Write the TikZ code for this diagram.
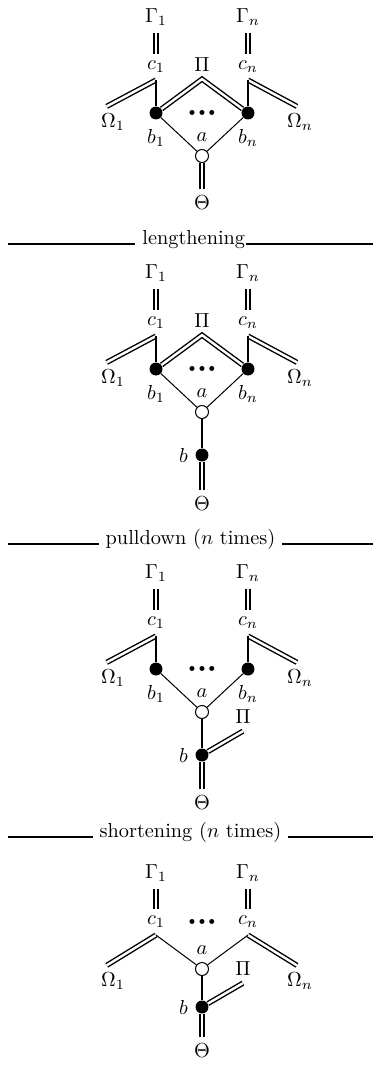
\documentclass[tikz,border=0pt]{standalone}
\usepackage{amsmath}
\usetikzlibrary{positioning,calc}

\newcommand{\midots}{$\scriptscriptstyle\bullet\,\bullet\,\bullet$}

\begin{document}
\begin{tikzpicture}[x=0.4926pt,y=-0.4926pt]
  \tikzstyle{lbl}=[inner sep=3.33pt]
  \tikzstyle{bdot}=[circle,fill=black,inner sep=0pt,minimum size=6.4pt]
  \tikzstyle{wdot}=[circle,draw,fill=white,line width=0.5pt,inner sep=0pt,minimum size=6.4pt]
  \tikzstyle{dbl}=[double,line width=0.7pt,double distance=1.2pt]
  \tikzstyle{thk}=[line width=1.2pt]
  \tikzstyle{thn}=[line width=0.5pt]
  \tikzstyle{rule}=[line width=1.3pt]
  \tikzstyle{sep}=[anchor=base,inner sep=0pt]
  \tikzstyle{blab}=[label distance=1pt]
  \useasboundingbox (0,0) rectangle (373,1067);

  % initial graph
  \node[lbl] (ag1) at (156,17) {$\Gamma_1$};
  \node[lbl] (agn) at (248,17) {$\Gamma_n$};
  \node[lbl] (ac1) at (156,67) {$c_1$};
  \node[lbl] (acn) at (248,67) {$c_n$};
  \node[lbl] (api) at (202,65) {$\Pi$};
  \node[lbl] (adots) at (202,113) {\midots};
  \node[bdot,label={[blab]below:$b_1$}] (ab1) at (156,113) {};
  \node[bdot,label={[blab]below:$b_n$}] (abn) at (248,113) {};
  \node[lbl] (aom1) at (113,122) {$\Omega_1$};
  \node[lbl] (aomn) at (300,122) {$\Omega_n$};
  \node[wdot,label=above:$a$] (aa) at (202,156) {};
  \node[lbl] (ath) at (202,203) {$\Theta$};
  \draw[dbl] (ag1) -- (ac1);
  \draw[dbl] (agn) -- (acn);
  \draw[dbl] (ac1.south) -- (aom1.112);
  \draw[dbl] (acn.south) -- (aomn.101);
  \draw[thk] (ac1.south) -- (ab1);
  \draw[thk] (acn.south) -- (abn);
  \draw[dbl] (ab1) -- (api.south) -- (abn);
  \draw[thn] (ab1) -- (aa);
  \draw[thn] (abn) -- (aa);
  \draw[dbl] (aa) -- (ath);

  % lengthening
  \coordinate (lenl) at (8,244);
  \coordinate (lenr) at (373,244);
  \node[sep] (len) at (193.8,244) {lengthening};
  \draw[rule] (lenl) -- ([xshift=-3.33pt]len.base west);
  \draw[rule] (len.base east) -- (lenr);

  \node[lbl] (bg1) at (156,273) {$\Gamma_1$};
  \node[lbl] (bgn) at (248,273) {$\Gamma_n$};
  \node[lbl] (bc1) at (156,323) {$c_1$};
  \node[lbl] (bcn) at (248,323) {$c_n$};
  \node[lbl] (bpi) at (202,321) {$\Pi$};
  \node[lbl] (bdots) at (202,369) {\midots};
  \node[bdot,label={[blab]below:$b_1$}] (bb1) at (156,369) {};
  \node[bdot,label={[blab]below:$b_n$}] (bbn) at (248,369) {};
  \node[lbl] (bom1) at (113,378) {$\Omega_1$};
  \node[lbl] (bomn) at (300,378) {$\Omega_n$};
  \node[wdot,label=above:$a$] (ba) at (202,412) {};
  \node[bdot,label=left:$b$] (bb) at (202,455) {};
  \node[lbl] (bth) at (202,504) {$\Theta$};
  \draw[dbl] (bg1) -- (bc1);
  \draw[dbl] (bgn) -- (bcn);
  \draw[dbl] (bc1.south) -- (bom1.112);
  \draw[dbl] (bcn.south) -- (bomn.101);
  \draw[thk] (bc1.south) -- (bb1);
  \draw[thk] (bcn.south) -- (bbn);
  \draw[dbl] (bb1) -- (bpi.south) -- (bbn);
  \draw[thn] (bb1) -- (ba);
  \draw[thn] (bbn) -- (ba);
  \draw[thk] (ba) -- (bb);
  \draw[dbl] (bb) -- (bth);

  % pulldown
  \coordinate (pull) at (8,544);
  \coordinate (pulr) at (373,544);
  \node[sep] (pul) at (190.5,544) {pulldown ($n$ times)};
  \draw[rule] (pull) -- ([xshift=-3.33pt]pul.base west);
  \draw[rule] ([xshift=3.33pt]pul.base east) -- (pulr);

  \node[lbl] (cg1) at (156,573) {$\Gamma_1$};
  \node[lbl] (cgn) at (248,573) {$\Gamma_n$};
  \node[lbl] (cc1) at (156,623) {$c_1$};
  \node[lbl] (ccn) at (248,623) {$c_n$};
  \node[lbl] (cdots) at (202,669) {\midots};
  \node[bdot,label={[blab]below:$b_1$}] (cb1) at (156,669) {};
  \node[bdot,label={[blab]below:$b_n$}] (cbn) at (248,669) {};
  \node[lbl] (com1) at (113,678) {$\Omega_1$};
  \node[lbl] (comn) at (300,678) {$\Omega_n$};
  \node[wdot,label=above:$a$] (ca) at (202,712) {};
  \node[lbl] (cpi) at (243,717) {$\Pi$};
  \node[bdot,label=left:$b$] (cb) at (202,755) {};
  \node[lbl] (cth) at (202,803) {$\Theta$};
  \draw[dbl] (cg1) -- (cc1);
  \draw[dbl] (cgn) -- (ccn);
  \draw[dbl] (cc1.south) -- (com1.112);
  \draw[dbl] (ccn.south) -- (comn.101);
  \draw[thk] (cc1.south) -- (cb1);
  \draw[thk] (ccn.south) -- (cbn);
  \draw[thn] (cb1) -- (ca);
  \draw[thn] (cbn) -- (ca);
  \draw[thk] (ca) -- (cb);
  \draw[dbl] (cb) -- (cpi.south);
  \draw[dbl] (cb) -- (cth);

  % shortening
  \coordinate (shol) at (8,837);
  \coordinate (shor) at (373,837);
  \node[sep] (sho) at (190.5,837) {shortening ($n$ times)};
  \draw[rule] (shol) -- ([xshift=-3.33pt]sho.base west);
  \draw[rule] ([xshift=3.33pt]sho.base east) -- (shor);

  \node[lbl] (dg1) at (156,873) {$\Gamma_1$};
  \node[lbl] (dgn) at (248,873) {$\Gamma_n$};
  \node[lbl] (dc1) at (156,922) {$c_1$};
  \node[lbl] (dcn) at (248,922) {$c_n$};
  \node[lbl] (ddots) at (202,922) {\midots};
  \node[lbl] (dom1) at (113,981) {$\Omega_1$};
  \node[lbl] (domn) at (300,981) {$\Omega_n$};
  \node[wdot,label=above:$a$] (da) at (202,969) {};
  \node[lbl] (dpi) at (243,969) {$\Pi$};
  \node[bdot,label=left:$b$] (db) at (202,1007) {};
  \node[lbl] (dth) at (202,1051) {$\Theta$};
  \draw[dbl] (dg1) -- (dc1);
  \draw[dbl] (dgn) -- (dcn);
  \draw[dbl] (dc1.south) -- (dom1.112);
  \draw[dbl] (dcn.south) -- (domn.101);
  \draw[thn] (dc1.south) -- (da);
  \draw[thn] (dcn.south) -- (da);
  \draw[thk] (da) -- (db);
  \draw[dbl] (db) -- (dpi.south);
  \draw[dbl] (db) -- (dth);
\end{tikzpicture}
\end{document}
